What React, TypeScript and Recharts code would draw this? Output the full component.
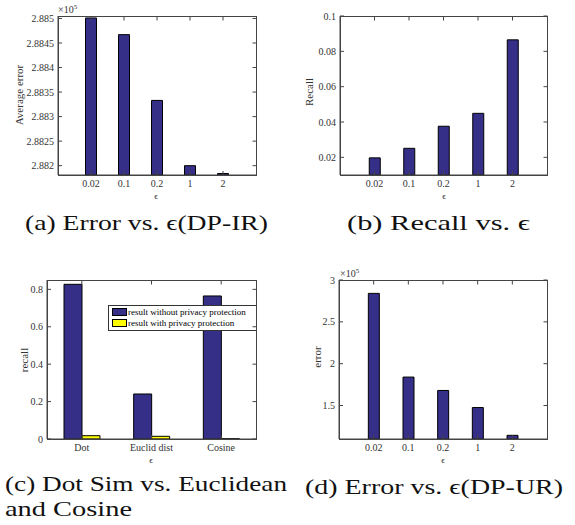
import { BarChart, Bar, XAxis, YAxis, Legend } from 'recharts';

// epsilon settings used by (a), (b), (d)
const epsLabels = ['0.02', '0.1', '0.2', '1', '2'];
const avgErrorIR = [288501, 288467, 288333, 288200, 288184];
const recallEps = [0.0197, 0.0251, 0.0376, 0.0449, 0.0865];
const errorUR = [284000, 184000, 168000, 147600, 114400];

// similarity comparison used by (c)
const simMethods = ['Dot', 'Euclid dist', 'Cosine'];
const recallNoPrivacy = [0.827, 0.2406, 0.7647];
const recallPrivacy = [0.0176, 0.0144, 0.002];
const seriesNames = ['result without privacy protection', 'result with privacy protection'];

const ticksA = [288200, 288250, 288300, 288350, 288400, 288450, 288500];
const ticksB = [0.02, 0.04, 0.06, 0.08, 0.1];
const ticksC = [0, 0.2, 0.4, 0.6, 0.8];
const ticksD = [150000, 200000, 250000, 300000];

const NAVY = '#352F88';
const YELLOW = '#FFFF00';
const AXIS = '#444';
const SERIF = '"Liberation Serif", "DejaVu Serif", serif';
const YW = 50;
const XH = 20;
const TICK = 4;

const tickStyle = { fontSize: 10, fill: '#333', fontFamily: SERIF };
const scaled = (v: number) => String(parseFloat((v / 1e5).toFixed(4)));

type Region = { x: number; y: number; w: number; h: number };
type Box = { left: number; top: number; right: number; bottom: number };

const boxA: Box = { left: 58, top: 16, right: 256, bottom: 175 };
const boxB: Box = { left: 340, top: 16, right: 547, bottom: 175 };
const boxC: Box = { left: 47, top: 280, right: 256, bottom: 439 };
const boxD: Box = { left: 339, top: 280, right: 547, bottom: 439 };

function marginFor(r: Region, b: Box) {
  return {
    top: b.top - r.y,
    left: b.left - r.x - YW,
    right: r.x + r.w - b.right,
    bottom: r.y + r.h - b.bottom - XH,
  };
}

function EpsPanel({ region, box, values, domain, ticks, fmt }: {
  region: Region; box: Box; values: number[]; domain: [number, number]; ticks: number[]; fmt: (v: number) => string;
}) {
  const data = epsLabels.map((eps, i) => ({ pos: i + 1, eps, value: values[i] }));
  return (
    <div style={{ position: 'absolute', left: region.x, top: region.y }}>
      <BarChart width={region.w} height={region.h} data={data} margin={marginFor(region, box)}>
        <XAxis dataKey="pos" type="number" domain={[0, epsLabels.length + 1]} ticks={data.map((d) => d.pos)}
          height={XH} tick={tickStyle} tickFormatter={(v: number) => epsLabels[v - 1] ?? ''} stroke={AXIS}
          tickSize={-TICK} tickMargin={9} interval={0} allowDataOverflow />
        <YAxis type="number" domain={domain} ticks={ticks} allowDataOverflow width={YW} tick={tickStyle}
          tickFormatter={fmt} stroke={AXIS} tickSize={-TICK} tickMargin={8} />
        <Bar dataKey="value" fill={NAVY} stroke="#000" strokeWidth={1} barSize={11} isAnimationActive={false} />
      </BarChart>
    </div>
  );
}

function SimLegend() {
  const colors = [NAVY, YELLOW];
  return (
    <div style={{ border: '1px solid #333', background: '#fff', width: 144, padding: '1px 0 2px 3px', fontFamily: SERIF, fontSize: 9, lineHeight: '10.5px', color: '#000' }}>
      {seriesNames.map((n, i) => (
        <div key={n} style={{ display: 'flex', alignItems: 'center' }}>
          <span style={{ display: 'inline-block', width: 13, height: 6, background: colors[i], border: '1px solid #000', marginRight: 1 }} />
          <span style={{ whiteSpace: 'nowrap' }}>{n}</span>
        </div>
      ))}
    </div>
  );
}

function SimPanel({ region, box }: { region: Region; box: Box }) {
  const data = simMethods.map((m, i) => ({ m, a: recallNoPrivacy[i], b: recallPrivacy[i] }));
  return (
    <div style={{ position: 'absolute', left: region.x, top: region.y }}>
      <BarChart width={region.w} height={region.h} data={data} margin={marginFor(region, box)} barGap={0}>
        <XAxis dataKey="m" height={XH} tick={tickStyle} stroke={AXIS} tickSize={-TICK} tickMargin={9} interval={0} />
        <YAxis type="number" domain={[0, 0.85]} ticks={ticksC} allowDataOverflow width={YW} tick={tickStyle}
          stroke={AXIS} tickSize={-TICK} tickMargin={8} />
        {/* middle/center placement keeps the legend from shrinking the plot area */}
        <Legend content={() => <SimLegend />} layout="horizontal" verticalAlign="middle" align="center"
          wrapperStyle={{ position: 'absolute', left: 108 - region.x, top: 305 - region.y, width: 148 }} />
        <Bar dataKey="a" name={seriesNames[0]} fill={NAVY} stroke="#000" strokeWidth={1} barSize={18} isAnimationActive={false} />
        <Bar dataKey="b" name={seriesNames[1]} fill={YELLOW} stroke="#000" strokeWidth={1} barSize={18} isAnimationActive={false} />
      </BarChart>
    </div>
  );
}

// MATLAB-style closed box: outline plus inward ticks on the top and right edges
function Frame({ box, domain, yTicks, xFracs }: { box: Box; domain: [number, number]; yTicks: number[]; xFracs: number[] }) {
  const h = box.bottom - box.top;
  const w = box.right - box.left;
  const yOf = (v: number) => box.bottom - ((v - domain[0]) / (domain[1] - domain[0])) * h;
  return (
    <g stroke={AXIS} strokeWidth={1} fill="none">
      <rect x={box.left + 0.5} y={box.top + 0.5} width={w} height={h} />
      {yTicks.map((t) => (
        <line key={'r' + t} x1={box.right + 0.5 - TICK} x2={box.right + 0.5} y1={yOf(t)} y2={yOf(t)} />
      ))}
      {xFracs.map((f) => (
        <line key={'t' + f} x1={box.left + f * w} x2={box.left + f * w} y1={box.top + 0.5} y2={box.top + 0.5 + TICK} />
      ))}
    </g>
  );
}

function Exp({ x, y }: { x: number; y: number }) {
  return (
    <text x={x} y={y} fontFamily={SERIF} fontSize={10} fill="#333">
      ×10<tspan fontSize={7} dy={-4}>5</tspan>
    </text>
  );
}

function YLabel({ x, y, text }: { x: number; y: number; text: string }) {
  return (
    <text x={x} y={y} transform={`rotate(-90 ${x} ${y})`} textAnchor="middle" fontFamily={SERIF} fontSize={11} fill="#333">
      {text}
    </text>
  );
}

function Caption({ x, y, w, text }: { x: number; y: number; w: number; text: string }) {
  return (
    <text x={x} y={y} textLength={w} lengthAdjust="spacingAndGlyphs" fontFamily={SERIF} fontSize={22} fill="#111">
      {text}
    </text>
  );
}

export default function App() {
  const epsFracs = epsLabels.map((_, i) => (i + 1) / (epsLabels.length + 1));
  const simFracs = simMethods.map((_, i) => (i + 0.5) / simMethods.length);
  return (
    <div style={{ position: 'absolute', left: 0, top: 0, width: 575, height: 525, background: '#fff', fontFamily: SERIF }}>
      <EpsPanel region={{ x: 0, y: 0, w: 290, h: 260 }} box={boxA}
        values={avgErrorIR} domain={[288181, 288505]} ticks={ticksA} fmt={scaled} />
      <EpsPanel region={{ x: 290, y: 0, w: 285, h: 260 }} box={boxB}
        values={recallEps} domain={[0.01, 0.1]} ticks={ticksB} fmt={(v) => String(v)} />
      <SimPanel region={{ x: 0, y: 260, w: 290, h: 265 }} box={boxC} />
      <EpsPanel region={{ x: 290, y: 260, w: 285, h: 265 }} box={boxD}
        values={errorUR} domain={[110000, 300000]} ticks={ticksD} fmt={scaled} />
      <svg width={575} height={525} style={{ position: 'absolute', left: 0, top: 0, pointerEvents: 'none' }}>
        <Frame box={boxA} domain={[288181, 288505]} yTicks={ticksA} xFracs={epsFracs} />
        <Frame box={boxB} domain={[0.01, 0.1]} yTicks={ticksB} xFracs={epsFracs} />
        <Frame box={boxC} domain={[0, 0.85]} yTicks={ticksC} xFracs={simFracs} />
        <Frame box={boxD} domain={[110000, 300000]} yTicks={ticksD} xFracs={epsFracs} />
        <Exp x={58} y={13} />
        <Exp x={340} y={277} />
        <YLabel x={23} y={95} text="Average error" />
        <YLabel x={313} y={92} text="Recall" />
        <YLabel x={28} y={360} text="recall" />
        <YLabel x={321} y={357} text="error" />
        <text x={156} y={199} textAnchor="middle" fontFamily={SERIF} fontSize={9} fill="#333">ϵ</text>
        <text x={444} y={199} textAnchor="middle" fontFamily={SERIF} fontSize={9} fill="#333">ϵ</text>
        <text x={151} y={463} textAnchor="middle" fontFamily={SERIF} fontSize={9} fill="#333">ϵ</text>
        <text x={443} y={463} textAnchor="middle" fontFamily={SERIF} fontSize={9} fill="#333">ϵ</text>
        <Caption x={25} y={230} w={243} text="(a) Error vs. ϵ(DP-IR)" />
        <Caption x={347} y={230} w={183} text="(b) Recall vs. ϵ" />
        <Caption x={5} y={491} w={282} text="(c) Dot Sim vs. Euclidean" />
        <Caption x={5} y={516} w={127} text="and Cosine" />
        <Caption x={305} y={494} w={258} text="(d) Error vs. ϵ(DP-UR)" />
      </svg>
    </div>
  );
}
